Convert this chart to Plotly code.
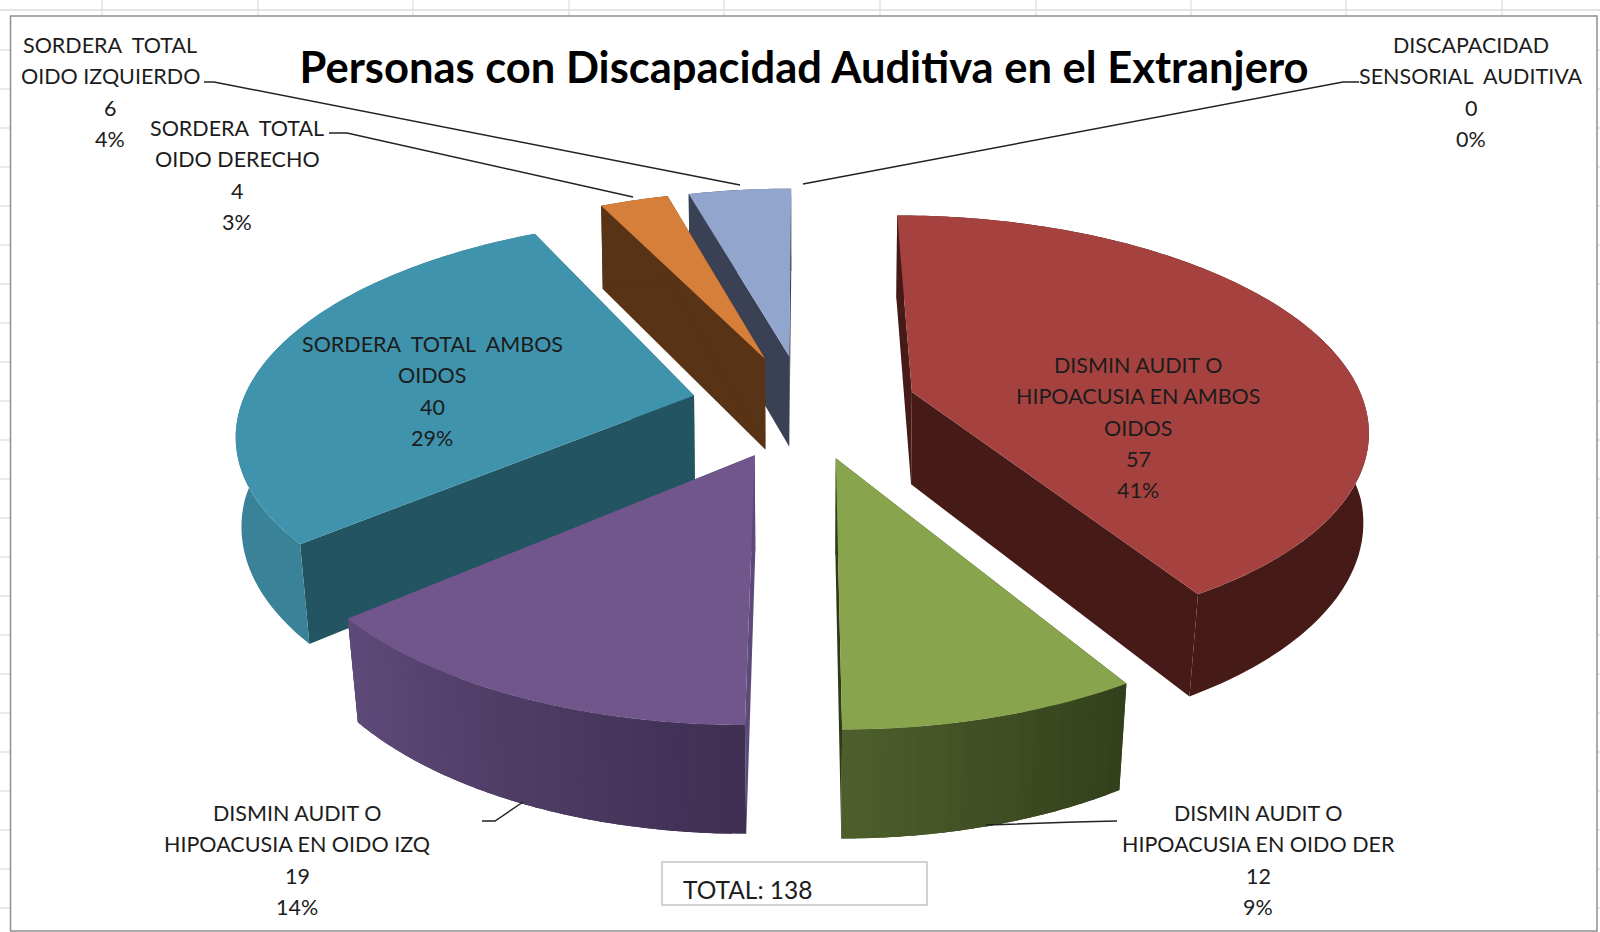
import numpy as np
import plotly.graph_objects as go

# ---- data ----
categories = ["DISMIN AUDIT O HIPOACUSIA EN AMBOS OIDOS", "DISMIN AUDIT O HIPOACUSIA EN OIDO DER",
              "DISMIN AUDIT O HIPOACUSIA EN OIDO IZQ", "SORDERA TOTAL AMBOS OIDOS",
              "SORDERA TOTAL OIDO DERECHO", "SORDERA TOTAL OIDO IZQUIERDO",
              "DISCAPACIDAD SENSORIAL AUDITIVA"]
values = [57, 12, 19, 40, 4, 6, 0]
name_lines = [["DISMIN AUDIT O", "HIPOACUSIA EN AMBOS", "OIDOS"],
              ["DISMIN AUDIT O", "HIPOACUSIA EN OIDO DER"],
              ["DISMIN AUDIT O", "HIPOACUSIA EN OIDO IZQ"],
              ["SORDERA  TOTAL  AMBOS", "OIDOS"],
              ["SORDERA  TOTAL", "OIDO DERECHO"],
              ["SORDERA  TOTAL", "OIDO IZQUIERDO"],
              ["DISCAPACIDAD", "SENSORIAL  AUDITIVA"]]
title_text = "Personas con Discapacidad Auditiva en el Extranjero"
total_text = "TOTAL: 138"

# ---- styles / layout ----
top_colors = ["#a5423f", "#88a44c", "#71568c", "#3f93ad", "#d67f3a", "#92a5cd", "#92a5cd"]
face_colors = ["#451a17", "#2e3a18", "#5e4a78", "#235462", "#593316", "#3a4154", "#3a4154"]
wall_start = ["#451a17", "#33401c", "#3f2f52", "#3a8297", "#593316", "#3a4154", "#3a4154"]
wall_end = ["#451a17", "#4d5e2c", "#5e4a78", "#3a8297", "#593316", "#3a4154", "#3a4154"]
explode = [0.25, 0.25, 0.25, 0.25, 0.25, 0.25, 0.25]
draw_order = [5, 4, 0, 3, 2, 1]
label_x = [1138, 1258, 297, 432, 237, 110, 1471]
label_y0 = [365, 813, 813, 344, 128, 45, 45]
PITCH = 31.3
CX, CY, A, B, P, H, K = 804, 406, 453, 209, 0.16, 93, 0.022
FONT = "Lato"


def project(X, Yf, low=False):
    s = 1 / (1 - P * Yf)
    sx, sy = A * s * X, B * s * Yf
    if low:
        k = K * (0.35 + 0.65 * np.clip(Yf / 0.8, 0, 1))
        return CX + sx * (1 - k), CY + sy * (1 - K) + H * s
    return CX + sx, CY + sy


def rim(ax, ay, th):
    return ax + np.sin(th), ay - np.cos(th)


def mix(c1, c2, t):
    a = [int(c1[i:i + 2], 16) for i in (1, 3, 5)]
    b = [int(c2[i:i + 2], 16) for i in (1, 3, 5)]
    return "#%02x%02x%02x" % tuple(round(u + (v - u) * t) for u, v in zip(a, b))


def poly(fig, xs, ys, color):
    fig.add_trace(go.Scatter(x=list(xs), y=list(ys), mode="none", fill="toself", fillcolor=color,
                             hoverinfo="skip", showlegend=False))


def wall_quads(ax, ay, ta, tb, step):
    """Union of small wall quads between two angles, as one None-separated outline."""
    n = max(1, int(np.ceil((tb - ta) / step)))
    th = np.linspace(ta, tb, n + 1)
    xs, ys = [], []
    for u, v in zip(th[:-1], th[1:]):
        rx, ry = rim(ax, ay, np.array([u, v]))
        ux, uy = project(rx, ry)
        lx, ly = project(rx, ry, True)
        xs += [ux[0], ux[1], lx[1], lx[0], ux[0], None]
        ys += [uy[0], uy[1], ly[1], ly[0], uy[0], None]
    return xs, ys


fig = go.Figure()
total = sum(values)
edges = np.cumsum([0] + values) / total * 2 * np.pi

for i in draw_order:
    t0, t1 = edges[i], edges[i + 1]
    mid = (t0 + t1) / 2
    ax, ay = explode[i] * np.sin(mid), -explode[i] * np.cos(mid)
    # radial side faces
    for t in (t0, t1):
        rx, ry = rim(ax, ay, t)
        p1, p2 = project(ax, ay), project(rx, ry)
        p3, p4 = project(rx, ry, True), project(ax, ay, True)
        poly(fig, [p1[0], p2[0], p3[0], p4[0], p1[0]], [p1[1], p2[1], p3[1], p4[1], p1[1]], face_colors[i])
    # outer wall: bands overlap the next one so that no seams appear
    deg = np.radians(1)
    if wall_start[i] == wall_end[i]:
        xs, ys = wall_quads(ax, ay, t0, t1, deg)
        poly(fig, xs, ys, wall_start[i])
    else:
        n = max(2, int(np.degrees(t1 - t0) / 1.5))
        th = np.linspace(t0, t1, n + 1)
        for j in range(n):
            xs, ys = wall_quads(ax, ay, th[j], min(t1, th[j + 1] + 2 * deg), deg)
            poly(fig, xs, ys, mix(wall_start[i], wall_end[i], j / max(1, n - 1)))
    # top face
    sub = np.linspace(t0, t1, max(8, int(np.degrees(t1 - t0))))
    rx, ry = rim(ax, ay, sub)
    X = np.concatenate([[ax], rx, [ax]])
    Y = np.concatenate([[ay], ry, [ay]])
    ux, uy = project(X, Y)
    poly(fig, ux, uy, top_colors[i])

# leader lines
leaders = [[(204, 82), (214, 82), (740, 185)],
           [(329, 133), (347, 133), (633, 197)],
           [(1359, 82), (1343, 82), (803, 184)],
           [(482, 821), (495, 821), (523, 802)],
           [(1117, 821), (1075, 822), (986, 825)]]
for pts in leaders:
    fig.add_trace(go.Scatter(x=[p[0] for p in pts], y=[p[1] for p in pts], mode="lines",
                             line=dict(color="#222222", width=1.5), hoverinfo="skip", showlegend=False))

# data labels, one annotation per text line to hold the original line pitch
annotations = []
for i, v in enumerate(values):
    pct = f"{round(100 * v / total)}%"
    for k, line in enumerate(name_lines[i] + [str(v), pct]):
        annotations.append(dict(x=label_x[i], y=label_y0[i] + k * PITCH, text=line, showarrow=False,
                                xanchor="center", yanchor="middle", xref="x", yref="y",
                                font=dict(family=FONT, size=21.5, color="#1c1c1c")))
annotations.append(dict(x=681, y=889, text=total_text, showarrow=False, xanchor="left", yanchor="middle",
                        xref="x", yref="y", font=dict(family=FONT, size=24.5, color="#1c1c1c")))

# worksheet grid, chart frame and total box
shapes = []
GRID = "#e3e3e3"
for gx in [102, 258, 413, 569, 724, 880, 1036, 1191, 1346, 1502]:
    shapes.append(dict(type="line", x0=gx, x1=gx, y0=0, y1=16, line=dict(color=GRID, width=1.5), layer="below"))
shapes.append(dict(type="line", x0=0, x1=1600, y0=10, y1=10, line=dict(color=GRID, width=2), layer="below"))
for gy in range(50, 932, 39):
    shapes.append(dict(type="line", x0=0, x1=10, y0=gy, y1=gy, line=dict(color=GRID, width=1.5), layer="below"))
    shapes.append(dict(type="line", x0=1597, x1=1600, y0=gy, y1=gy, line=dict(color=GRID, width=1.5), layer="below"))
shapes.append(dict(type="rect", x0=10.5, x1=1597, y0=16, y1=931, line=dict(color="#8f8f8f", width=1.5),
                   fillcolor="white", layer="below"))
shapes.append(dict(type="rect", x0=662, x1=927, y0=862, y1=905, line=dict(color="#c4c4c4", width=1.5),
                   fillcolor="white", layer="below"))

fig.update_layout(
    width=1600, height=932, margin=dict(l=0, r=0, t=0, b=0),
    paper_bgcolor="white", plot_bgcolor="white", showlegend=False,
    xaxis=dict(range=[0, 1600], visible=False, fixedrange=True),
    yaxis=dict(range=[932, 0], visible=False, fixedrange=True),
    title=dict(text=f"<b>{title_text}</b>", x=804 / 1600, y=1 - 68 / 932, xanchor="center", yanchor="middle",
               xref="paper", yref="paper", font=dict(family=FONT, size=43.5, color="black")),
    annotations=annotations, shapes=shapes,
)
fig.write_html("out.html", config={"displayModeBar": False},
               post_script="document.body.style.margin='0';document.documentElement.style.overflow='hidden';")
